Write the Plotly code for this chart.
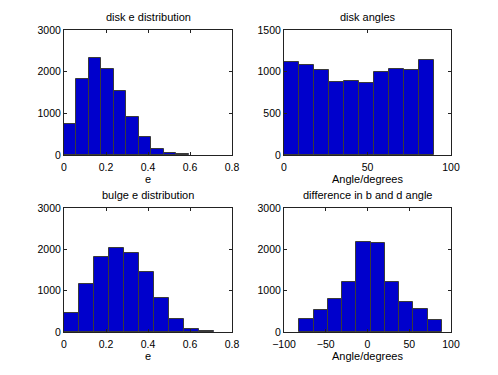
import plotly.graph_objects as go

# ---- data ----
disk_e_centers = [0.0297, 0.0891, 0.1485, 0.2079, 0.2673, 0.3267, 0.3861, 0.4455, 0.5049, 0.5643]
disk_e_counts = [738, 1833, 2325, 2063, 1548, 913, 429, 135, 48, 16]

disk_ang_centers = [4.5, 13.5, 22.5, 31.5, 40.5, 49.5, 58.5, 67.5, 76.5, 85.5]
disk_ang_counts = [1111, 1079, 1024, 881, 893, 861, 992, 1036, 1016, 1135]

bulge_e_centers = [0.0358, 0.1073, 0.1788, 0.2503, 0.3218, 0.3933, 0.4648, 0.5363, 0.6078, 0.6793]
bulge_e_counts = [457, 1163, 1821, 2021, 1917, 1460, 818, 313, 72, 16]

diff_centers = [-73.2, -56.1, -39.0, -21.9, -4.8, 12.3, 29.4, 46.5, 63.6, 80.7]
diff_counts = [321, 537, 810, 1203, 2166, 2150, 1219, 722, 553, 297]

titles = ["disk e distribution", "disk angles", "bulge e distribution", "difference in b and d angle"]
xlabels = ["e", "Angle/degrees", "e", "Angle/degrees"]

FONT = "Liberation Sans, Arial, Helvetica, sans-serif"
BAR = "#0000cc"
EDGE = "#3a3a3a"

W, H = 498, 375
# axes boxes in pixels: (x0, x1, ytop, ybottom)
boxes = [(64, 232, 30, 155), (284, 451, 30, 155), (64, 232, 208, 332), (284, 451, 208, 332)]

panels = [
    (disk_e_centers, disk_e_counts, [0, 0.8], [0, 3000], [0, 0.2, 0.4, 0.6, 0.8], [0, 1000, 2000, 3000]),
    (disk_ang_centers, disk_ang_counts, [0, 100], [0, 1500], [0, 50, 100], [0, 500, 1000, 1500]),
    (bulge_e_centers, bulge_e_counts, [0, 0.8], [0, 3000], [0, 0.2, 0.4, 0.6, 0.8], [0, 1000, 2000, 3000]),
    (diff_centers, diff_counts, [-100, 100], [0, 3000], [-100, -50, 0, 50, 100], [0, 1000, 2000, 3000]),
]

fig = go.Figure()
annotations = []
for i, (cx, cy, xr, yr, xt, yt) in enumerate(panels):
    n = i + 1
    xa = "x" if n == 1 else f"x{n}"
    ya = "y" if n == 1 else f"y{n}"
    width = (cx[-1] - cx[0]) / (len(cx) - 1)
    fig.add_trace(go.Bar(
        x=cx, y=cy, width=[width] * len(cx), xaxis=xa, yaxis=ya,
        marker=dict(color=BAR, line=dict(color=EDGE, width=1)),
        showlegend=False, hoverinfo="x+y",
    ))
    x0, x1, yt0, yb0 = boxes[i]
    xdom = [x0 / W, x1 / W]
    ydom = [1 - yb0 / H, 1 - yt0 / H]
    axcommon = dict(showline=True, linecolor="#222", linewidth=1, mirror="ticks",
                    ticks="inside", ticklen=3, tickcolor="#222", showgrid=False, zeroline=False,
                    automargin=False,
                    tickfont=dict(family=FONT, size=10.5, color="#000"))
    fig.layout[("xaxis" if n == 1 else f"xaxis{n}")] = dict(
        domain=xdom, range=xr, tickvals=xt, anchor=ya, ticklabelstandoff=2, **axcommon)
    fig.layout[("yaxis" if n == 1 else f"yaxis{n}")] = dict(
        domain=ydom, range=yr, tickvals=yt, anchor=xa, **axcommon)
    annotations.append(dict(text=titles[i], x=(x0 + x1) / 2 / W, y=1 - (yt0 - 13) / H,
                            xref="paper", yref="paper", showarrow=False,
                            xanchor="center", yanchor="middle",
                            font=dict(family=FONT, size=11, color="#000")))
    if xlabels[i]:
        annotations.append(dict(text=xlabels[i], x=(x0 + x1) / 2 / W, y=1 - (yb0 + 24) / H,
                                xref="paper", yref="paper", showarrow=False,
                                xanchor="center", yanchor="middle",
                                font=dict(family=FONT, size=11, color="#000")))

fig.update_layout(
    width=W, height=H, margin=dict(l=0, r=0, t=0, b=0),
    paper_bgcolor="white", plot_bgcolor="white",
    annotations=annotations, bargap=0,
)
fig.write_html("out.html", config={"displayModeBar": False},
               post_script="document.body.style.margin='0';document.body.style.padding='0';")
